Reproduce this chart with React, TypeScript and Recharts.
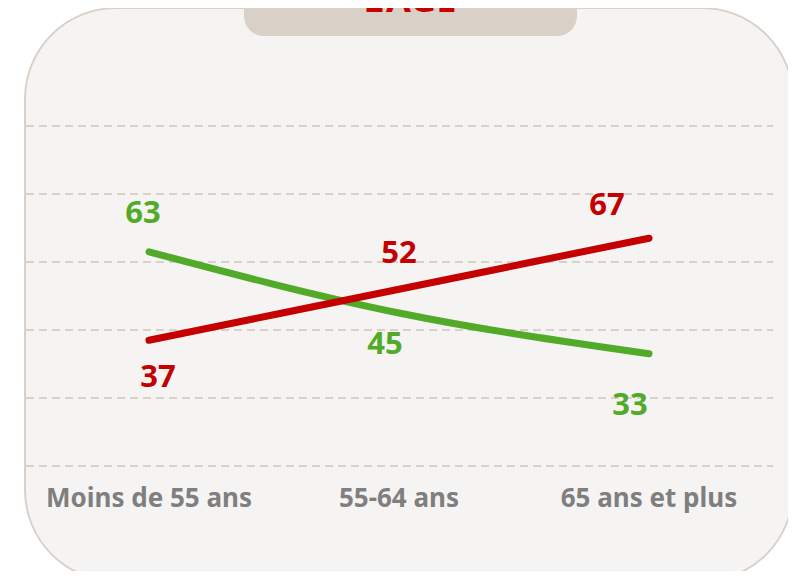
import { LineChart, Line, XAxis, YAxis, CartesianGrid, LabelList } from 'recharts';

const categories = ['Moins de 55 ans', '55-64 ans', '65 ans et plus'];
const greenValues = [63, 45, 33];
const redValues = [37, 52, 67];
const yTicks = [0, 20, 40, 60, 80, 100];

const GREEN = '#52ab28';
const RED = '#c40000';
const FONT = '"Noto Sans", "DejaVu Sans", sans-serif';

// label offsets relative to each point (hand placed like the original)
const greenOffsets = [[-6, -41], [-14, 29], [-19, 49]];
const redOffsets = [[9, 35], [0, -38], [-42, -35]];

const data = categories.map((c, i) => ({ cat: c, green: greenValues[i], red: redValues[i] }));

function makeLabel(color: string, offsets: number[][]) {
  return (props: any) => {
    const { x, y, value, index } = props;
    const [dx, dy] = offsets[index] ?? [0, 0];
    return (
      <text
        x={x + dx}
        y={y + dy}
        textAnchor="middle"
        dominantBaseline="central"
        fill={color}
        fontFamily={FONT}
        fontWeight={700}
        fontSize={31}
      >
        {value}
      </text>
    );
  };
}

export default function App() {
  return (
    <div style={{ position: 'relative', width: 796, height: 579, margin: -8, overflow: 'hidden', background: '#fff' }}>
      <div
        style={{
          position: 'absolute', left: 24, top: 7, width: 770, height: 575,
          background: '#f6f4f3', border: '2px solid #d9d1c9', borderRadius: 92, boxSizing: 'border-box',
        }}
      />
      <div
        style={{
          position: 'absolute', left: 244, top: -20, width: 333, height: 56,
          background: '#d9d0c7', borderRadius: 20,
        }}
      />
      <svg width={796} height={40} style={{ position: 'absolute', left: 0, top: 0 }}>
        <text x={410} y={12} textAnchor="middle" fill={RED} fontFamily={FONT} fontWeight={700} fontSize={36}>
          L’ÂGE
        </text>
      </svg>
      <div style={{ position: 'absolute', left: 0, top: 0 }}>
        <LineChart width={796} height={579} data={data} margin={{ top: 126, right: 23, bottom: 73, left: 26 }}>
          <CartesianGrid vertical={false} stroke="#d9d0c8" strokeWidth={2} strokeDasharray="8 5" />
          <YAxis hide domain={[0, 100]} ticks={yTicks} />
          <XAxis
            dataKey="cat"
            axisLine={false}
            tickLine={false}
            tickSize={0}
            tickMargin={23}
            height={40}
            padding={{ left: 123, right: 124 }}
            tick={{ fill: '#7f7f7f', fontFamily: FONT, fontWeight: 700, fontSize: 26 }}
          />
          <Line type="monotone" dataKey="green" stroke={GREEN} strokeWidth={7} dot={false} strokeLinecap="round" isAnimationActive={false}>
            <LabelList dataKey="green" content={makeLabel(GREEN, greenOffsets)} />
          </Line>
          <Line type="monotone" dataKey="red" stroke={RED} strokeWidth={7} dot={false} strokeLinecap="round" isAnimationActive={false}>
            <LabelList dataKey="red" content={makeLabel(RED, redOffsets)} />
          </Line>
        </LineChart>
      </div>
    </div>
  );
}
